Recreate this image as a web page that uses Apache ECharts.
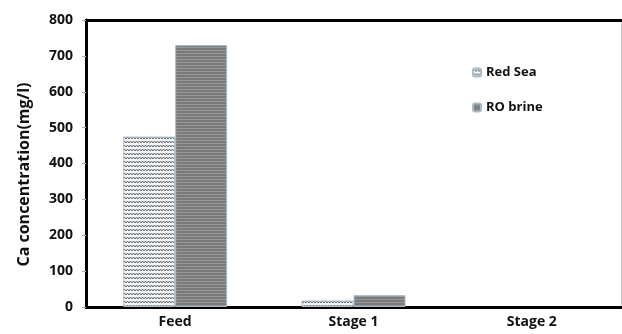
<!DOCTYPE html>
<html><head><meta charset="utf-8">
<script src="https://cdn.jsdelivr.net/npm/echarts@6/dist/echarts.min.js"></script>
<style>html,body{margin:0;padding:0;background:#fff}#c{width:622px;height:334px}</style>
</head><body><div id="c"></div>
<script>
const categories = ['Feed', 'Stage 1', 'Stage 2'];
const redSea = [475, 18, 0];
const roBrine = [730, 33, 0];
const yTicks = [0, 100, 200, 300, 400, 500, 600, 700, 800];

function zigzag() {
  const c = document.createElement('canvas');
  c.width = 6; c.height = 4;
  const g = c.getContext('2d');
  g.fillStyle = '#f2f4f6'; g.fillRect(0, 0, 6, 4);
  g.strokeStyle = '#62666b'; g.lineWidth = 1;
  g.beginPath(); g.moveTo(0, 3); g.lineTo(1.5, 1); g.lineTo(3, 3); g.lineTo(4.5, 1); g.lineTo(6, 3); g.stroke();
  return c;
}
function stripes() {
  const c = document.createElement('canvas');
  c.width = 4; c.height = 3;
  const g = c.getContext('2d');
  g.fillStyle = '#7a7a7a'; g.fillRect(0, 0, 4, 3);
  g.fillStyle = '#989898'; g.fillRect(0, 2, 4, 1);
  return c;
}
const zz = zigzag(), st = stripes();
const chart = echarts.init(document.getElementById('c'));
const font = 'Open Sans';
const mk = (arr) => arr.map(v => v === 0 ? { value: v, itemStyle: { borderWidth: 0 } } : v);
chart.setOption({
  animation: false,
  grid: { left: 86, right: 1, top: 20, bottom: 27 },
  legend: {
    orient: 'vertical', left: 472, top: 66, padding: 0, itemWidth: 8, itemHeight: 8, itemGap: 22,
    textStyle: { fontFamily: font, fontWeight: 'bold', fontSize: 13, color: '#111' },
    data: ['Red Sea', 'RO brine']
  },
  xAxis: [{
    type: 'category', data: categories,
    axisLine: { onZero: false, lineStyle: { color: '#000', width: 3 } },
    axisTick: { show: false },
    axisLabel: { fontFamily: font, fontWeight: 'bold', fontSize: 14, color: '#111', margin: 8 }
  }, {
    type: 'category', position: 'top', data: categories,
    axisLine: { onZero: false, lineStyle: { color: '#000', width: 3 } },
    axisTick: { show: false }, axisLabel: { show: false }
  }],
  yAxis: [{
    type: 'value', min: yTicks[0], max: yTicks[yTicks.length - 1], interval: 100,
    name: 'Ca concentration(mg/l)', nameLocation: 'middle', nameGap: 54,
    nameTextStyle: { fontFamily: font, fontWeight: 'bold', fontSize: 16, color: '#111', padding: [0, 22, 0, 0] },
    axisLine: { show: true, onZero: false, lineStyle: { color: '#000', width: 3 } },
    axisTick: { show: true, length: 4, lineStyle: { color: '#aaa' } },
    splitLine: { show: false },
    axisLabel: { fontFamily: font, fontWeight: 'bold', fontSize: 14, color: '#111', margin: 13 }
  }, {
    type: 'value', position: 'right', min: yTicks[0], max: yTicks[yTicks.length - 1], interval: 100,
    axisLine: { show: true, onZero: false, lineStyle: { color: '#c8c8c8', width: 1 } },
    axisTick: { show: false }, axisLabel: { show: false }, splitLine: { show: false }
  }],
  series: [{
    name: 'Red Sea', type: 'bar', data: mk(redSea), barWidth: 52, barGap: '0%',
    itemStyle: { color: { image: zz, repeat: 'repeat' }, borderColor: '#a9bcc8', borderWidth: 1 }
  }, {
    name: 'RO brine', type: 'bar', data: mk(roBrine), barWidth: 52, barGap: '0%',
    itemStyle: { color: { image: st, repeat: 'repeat' }, borderColor: '#a9bcc8', borderWidth: 1 }
  }]
});
</script>
</body></html>
